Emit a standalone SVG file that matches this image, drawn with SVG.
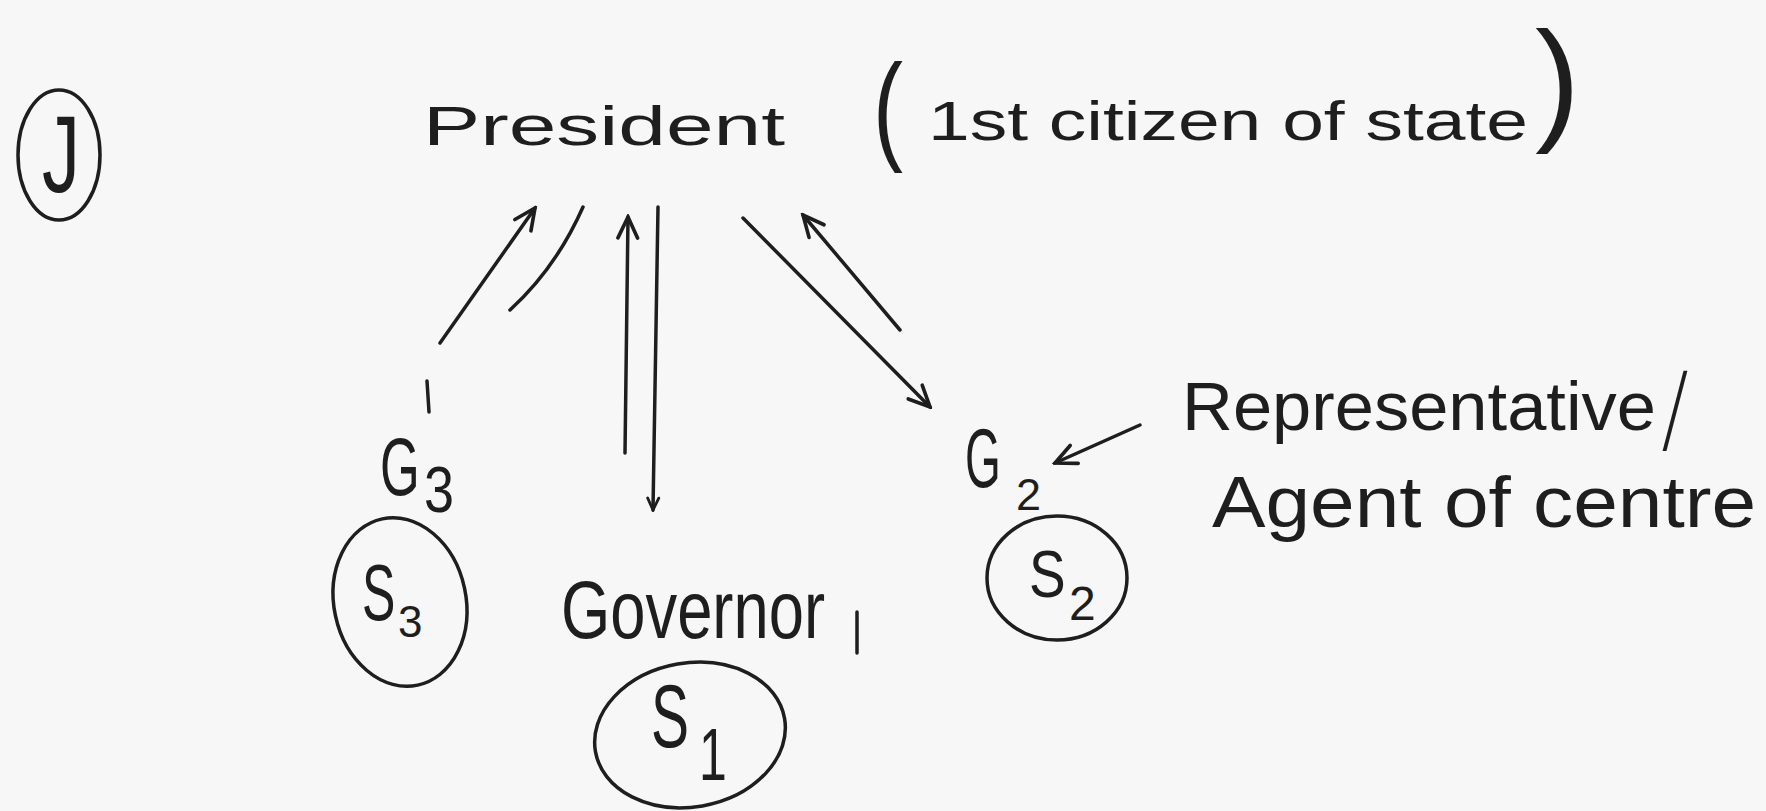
<svg xmlns="http://www.w3.org/2000/svg" width="1766" height="811" viewBox="0 0 1766 811">
<style>
  .t { font-family: "Liberation Sans", Arial, sans-serif; fill: #1e1e1e; }
  .ring { fill: none; stroke: #1e1e1e; stroke-width: 3.5; }
  .ln { fill: none; stroke: #1e1e1e; stroke-width: 3.5; stroke-linecap: round; }
</style>
<defs>
  <marker id="ah" viewBox="0 0 20 20" refX="18" refY="10" markerWidth="28" markerHeight="28" orient="auto" markerUnits="userSpaceOnUse">
    <path d="M3,3 L18,10 L3,17" fill="none" stroke="#1e1e1e" stroke-width="2.6" stroke-linecap="round"/>
  </marker>
  <marker id="ahs" viewBox="0 0 20 20" refX="18" refY="10" markerWidth="16" markerHeight="16" orient="auto" markerUnits="userSpaceOnUse">
    <path d="M3,3 L18,10 L3,17" fill="none" stroke="#1e1e1e" stroke-width="3.5" stroke-linecap="round"/>
  </marker>
</defs>
<rect x="0" y="0" width="1766" height="811" fill="#f7f7f7"/>

<g id="label-J">
  <ellipse class="ring" cx="59" cy="155" rx="41" ry="65"/>
  <text class="t" x="42" y="192" font-size="110" textLength="38" lengthAdjust="spacingAndGlyphs">J</text>
</g>

<g id="president">
  <text class="t" x="423" y="145" font-size="56" textLength="362" lengthAdjust="spacingAndGlyphs">President</text>
  <text class="t" x="873" y="148" font-size="120" textLength="30" lengthAdjust="spacingAndGlyphs">(</text>
  <text class="t" x="928" y="140" font-size="56" textLength="600" lengthAdjust="spacingAndGlyphs">1st citizen of state</text>
  <text class="t" x="1535" y="126" font-size="135" textLength="45" lengthAdjust="spacingAndGlyphs">)</text>
</g>

<g id="G3">
  <text class="t" transform="translate(380,495) scale(1,1.6)" font-size="51">G</text>
  <text class="t" transform="translate(424,512) scale(1,1.2)" font-size="54">3</text>
</g>

<g id="S3">
  <ellipse class="ring" cx="400" cy="602" rx="66" ry="85" transform="rotate(-12 400 602)"/>
  <text class="t" transform="translate(362,620) scale(1,1.6)" font-size="50">S</text>
  <text class="t" x="398" y="637" font-size="44">3</text>
</g>

<g id="governor">
  <text class="t" x="561" y="638" font-size="82" textLength="264" lengthAdjust="spacingAndGlyphs">Governor</text>
  <path class="ln" d="M857,612 L857,653"/>
</g>

<g id="S1">
  <ellipse class="ring" cx="690" cy="735" rx="96" ry="72" transform="rotate(-10 690 735)"/>
  <text class="t" transform="translate(651,747) scale(1,1.55)" font-size="57">S</text>
  <text class="t" transform="translate(699,780) scale(1,1.5)" font-size="50">1</text>
</g>

<g id="G2">
  <text class="t" transform="translate(965,487) scale(1,1.8)" font-size="46">G</text>
  <text class="t" x="1016" y="510" font-size="45">2</text>
</g>

<g id="S2">
  <ellipse class="ring" cx="1057" cy="578" rx="70" ry="62"/>
  <text class="t" transform="translate(1029,597) scale(1,1.2)" font-size="55">S</text>
  <text class="t" x="1069" y="620" font-size="48">2</text>
</g>

<g id="annotation">
  <text class="t" x="1182" y="430" font-size="68" textLength="474" lengthAdjust="spacingAndGlyphs">Representative</text>
  <text x="1660" y="441" font-family="Inter, 'Liberation Sans', sans-serif" font-weight="200" fill="#1e1e1e" font-size="92" textLength="30" lengthAdjust="spacingAndGlyphs">/</text>
  <text class="t" x="1212" y="527" font-size="72" textLength="544" lengthAdjust="spacingAndGlyphs">Agent of centre</text>
</g>

<g id="connectors">
  <path class="ln" d="M440,343 L535,208" marker-end="url(#ah)"/>
  <path class="ln" d="M583,207 Q556,268 510,310"/>
  <path class="ln" d="M427,381 L429,412"/>
  <path class="ln" d="M625,453 L628,217" marker-end="url(#ah)"/>
  <path class="ln" d="M658,207 L653,510" marker-end="url(#ahs)"/>
  <path class="ln" d="M743,218 L930,407" marker-end="url(#ah)"/>
  <path class="ln" d="M900,330 L803,215" marker-end="url(#ah)"/>
  <path class="ln" d="M1140,425 L1055,463" marker-end="url(#ah)"/>
</g>
</svg>
